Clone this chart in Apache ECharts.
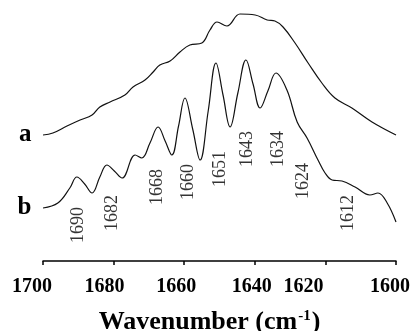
<!DOCTYPE html>
<html>
<head>
<meta charset="utf-8">
<script src="https://cdn.jsdelivr.net/npm/echarts@6/dist/echarts.min.js"></script>
<style>
  html, body { margin: 0; padding: 0; background: #fff; }
  #chart { width: 415px; height: 331px; }
</style>
</head>
<body>
<div id="chart"></div>
<script>
// spectrum a (upper trace)
const waveA = [1700, 1697.2, 1693.2, 1689.5, 1686.1, 1683.9, 1681.0, 1676.8, 1674.5, 1671.1, 1668.8, 1666.9,
  1664.0, 1661.2, 1658.4, 1655.0, 1652.7, 1650.7, 1647.9, 1644.2, 1639.9, 1636.5, 1634.3, 1632.0, 1628.6,
  1624.9, 1621.0, 1617.3, 1612.5, 1606.8, 1600];
const absA = [126, 128, 135, 141, 146, 154, 159, 166, 174, 181, 189, 196,
  200, 209, 216, 218, 231, 239, 235, 247, 246, 241, 240, 234, 218,
  198, 178, 163, 153, 139, 126];

// spectrum b (resolved trace)
const waveB = [1700, 1695.8, 1692.4, 1690.4, 1688.2, 1686.1, 1683.9, 1681.9, 1679.8, 1677.6, 1673.9, 1672.0,
  1669.7, 1667.4, 1665.4, 1663.5, 1661.6, 1659.8, 1657.6, 1655.5, 1653.2, 1651.0, 1649.0, 1647.0, 1644.8,
  1642.5, 1640.5, 1638.5, 1636.3, 1634.0, 1630.9, 1628.0, 1625.2, 1622.1, 1620.1, 1618.1, 1615.3, 1611.6,
  1607.4, 1605.1, 1602.5, 1600];
const absB = [53, 58, 73, 84, 77, 68, 84, 96, 90, 83, 106, 103,
  118, 134, 120, 106, 135, 163, 132, 101, 150, 198, 166, 134, 168,
  201, 177, 153, 170, 188, 171, 139, 123, 101, 88, 81, 80, 74,
  66, 68, 58, 39];

// peak annotations under trace b
const peakLabels = ['1690', '1682', '1668', '1660', '1651', '1643', '1634', '1624', '1612'];
const peakLabelWave = [1690.1, 1680.5, 1667.7, 1658.9, 1649.9, 1642.2, 1633.4, 1626.3, 1613.6];
const peakLabelHeight = [36, 48, 74, 79, 92, 112, 112, 80, 48];

const xTicks = [1700, 1680, 1660, 1640, 1620, 1600];
// how far each tick label sits left of its tick in the original
const tickShift = { 1700: 11, 1680: 9, 1660: 8, 1640: 3, 1620: 22, 1600: 6 };

const serif = 'Liberation Serif';

let chart = echarts.init(document.getElementById('chart'));

const rich = {};
xTicks.forEach(v => {
  rich['t' + v] = {
    fontFamily: serif, fontWeight: 'bold', fontSize: 20, color: '#000',
    padding: [0, tickShift[v] * 2, 0, 0]
  };
});

const curve = (xs, ys, name) => xs.map((x, i) => {
  let d = { value: [x, ys[i]] };
  if (i === 0) {
    d.label = {
      show: true, position: 'left', distance: 11, formatter: name,
      fontFamily: serif, fontWeight: 'bold', fontSize: 25, color: '#000'
    };
  }
  return d;
});

let option = {
  animation: false,
  grid: { left: 43, right: 19, top: 0, bottom: 70, outerBoundsMode: 'none' },
  xAxis: {
    type: 'value',
    min: 1600,
    max: 1700,
    interval: 20,
    inverse: true,
    name: '{n|Wavenumber (cm}{s|-1}{n|)}',
    nameLocation: 'middle',
    nameGap: 48,
    nameTextStyle: {
      padding: [0, 20, 0, 0],
      rich: {
        n: { fontFamily: serif, fontWeight: 'bold', fontSize: 26, color: '#000' },
        s: { fontFamily: serif, fontWeight: 'bold', fontSize: 15, color: '#000', verticalAlign: 'top', padding: [0, 1, 9, 1] }
      }
    },
    axisLine: { lineStyle: { color: '#000', width: 1.5 } },
    axisTick: { show: true, length: 4, lineStyle: { color: '#000', width: 1.5 } },
    splitLine: { show: false },
    axisLabel: {
      margin: 16,
      formatter: v => `{t${v}|${v}}`,
      rich: rich
    }
  },
  yAxis: {
    type: 'value',
    min: 0,
    max: 261,
    show: false
  },
  series: [
    {
      name: 'a',
      type: 'line',
      data: curve(waveA, absA, 'a'),
      smooth: 0.4,
      symbol: 'circle',
      symbolSize: 1,
      showSymbol: true,
      itemStyle: { color: 'rgba(0,0,0,0)' },
      lineStyle: { color: '#111', width: 1.2 }
    },
    {
      name: 'b',
      type: 'line',
      data: curve(waveB, absB, 'b'),
      smooth: 0.4,
      symbol: 'circle',
      symbolSize: 1,
      showSymbol: true,
      itemStyle: { color: 'rgba(0,0,0,0)' },
      lineStyle: { color: '#111', width: 1.2 }
    },
    {
      name: 'peaks',
      type: 'scatter',
      silent: true,
      symbolSize: 1,
      itemStyle: { color: 'rgba(0,0,0,0)' },
      data: peakLabels.map((t, i) => ({ name: t, value: [peakLabelWave[i], peakLabelHeight[i]] })),
      label: {
        show: true,
        position: 'inside',
        rotate: 90,
        formatter: p => p.name,
        fontFamily: serif,
        fontSize: 18,
        color: '#000'
      }
    }
  ]
};

chart.setOption(option);
</script>
</body>
</html>
